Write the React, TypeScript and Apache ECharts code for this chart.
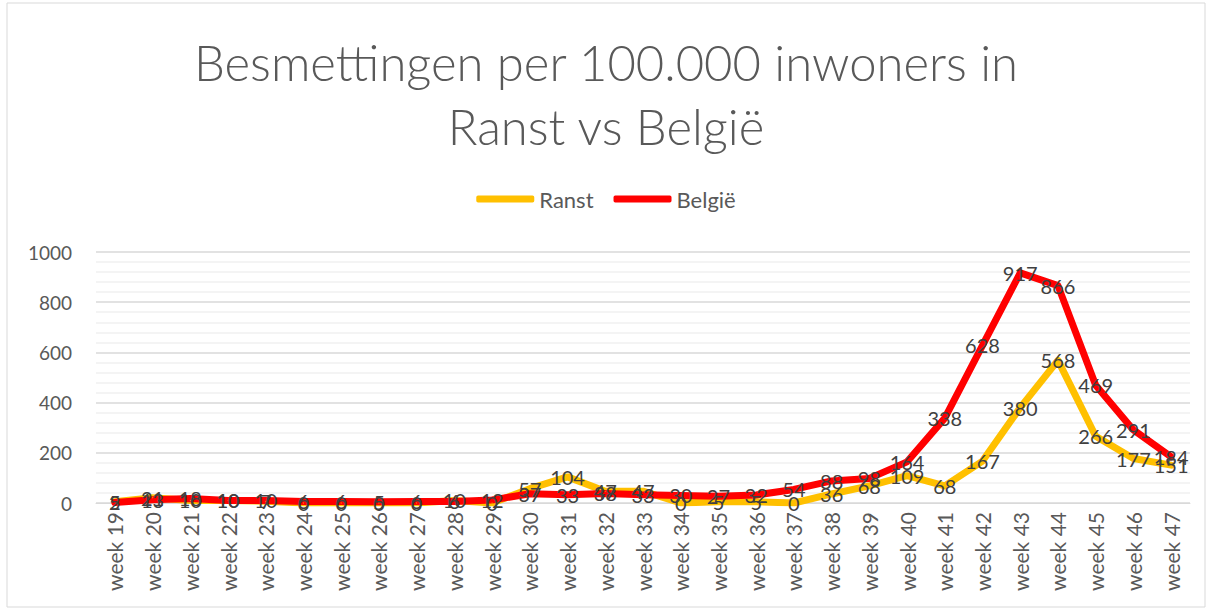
import React, { useEffect, useRef } from "react";
import * as echarts from "echarts";

const weeks = Array.from({ length: 29 }, (_, i) => `week ${19 + i}`);
const ranst = [5, 21, 10, 10, 7, 0, 0, 0, 0, 10, 0, 57, 104, 47, 47, 0, 5, 5, 0, 36, 68, 109, 68, 167, 380, 568, 266, 177, 151];
const belgie = [2, 13, 18, 10, 10, 6, 6, 5, 6, 6, 12, 37, 33, 38, 33, 30, 27, 32, 54, 88, 98, 164, 338, 628, 917, 866, 469, 291, 184];
const yTicks = [0, 200, 400, 600, 800, 1000];

const FONT = "Lato, 'Noto Sans', sans-serif";

export default function App() {
  const ref = useRef<HTMLDivElement>(null);
  useEffect(() => {
    const chart = echarts.init(ref.current!, null, { renderer: "svg" });
    const labelCfg = {
      show: true,
      position: "inside",
      color: "#404040",
      fontSize: 20,
      fontFamily: FONT,
    };
    chart.setOption({
      animation: false,
      backgroundColor: "#fff",
      title: {
        text: "Besmettingen per 100.000 inwoners in\nRanst vs België",
        left: "center",
        top: 25,
        textStyle: {
          fontFamily: FONT,
          fontWeight: 300,
          fontSize: 49,
          lineHeight: 64,
          color: "#595959",
        },
      },
      legend: {
        top: 183,
        left: "center",
        icon: "roundRect",
        itemWidth: 58,
        itemHeight: 7,
        itemGap: 20,
        textStyle: { fontFamily: FONT, fontSize: 22, color: "#595959" },
        data: ["Ranst", "België"],
      },
      graphic: [
        {
          type: "rect",
          shape: { x: 7, y: 3, width: 1198, height: 604 },
          style: { fill: "none", stroke: "#d9d9d9", lineWidth: 1 },
          silent: true,
        },
      ],
      grid: { left: 96, right: 22, top: 252, bottom: 108, containLabel: false },
      xAxis: {
        type: "category",
        data: weeks,
        boundaryGap: true,
        axisLine: { lineStyle: { color: "#d9d9d9", width: 1 } },
        axisTick: { show: false },
        axisLabel: {
          rotate: 90,
          color: "#595959",
          fontSize: 21,
          fontFamily: FONT,
          interval: 0,
          margin: 9,
        },
      },
      yAxis: {
        type: "value",
        min: 0,
        max: 1000,
        interval: 200,
        axisLine: { show: false },
        axisTick: { show: false },
        axisLabel: {
          color: "#595959",
          fontSize: 19,
          fontFamily: FONT,
          margin: 24,
          formatter: (v: number) => (yTicks.includes(v) ? String(v) : ""),
        },
        splitLine: { lineStyle: { color: "#d9d9d9", width: 1.5 } },
        minorTick: { show: false, splitNumber: 5 },
        minorSplitLine: { show: true, lineStyle: { color: "#f0f0f0", width: 1.5 } },
      },
      series: [
        {
          name: "Ranst",
          type: "line",
          data: ranst,
          symbol: "circle",
          symbolSize: 1,
          color: "#FFC000",
          itemStyle: { color: "#FFC000" },
          lineStyle: { color: "#FFC000", width: 7, cap: "round", join: "round" },
          label: labelCfg,
          labelLayout: { hideOverlap: false },
        },
        {
          name: "België",
          type: "line",
          data: belgie,
          symbol: "circle",
          symbolSize: 1,
          color: "#FF0000",
          itemStyle: { color: "#FF0000" },
          lineStyle: { color: "#FF0000", width: 7, cap: "round", join: "round" },
          label: labelCfg,
          labelLayout: { hideOverlap: false },
        },
      ],
    });
    return () => chart.dispose();
  }, []);
  return (
    <div
      ref={ref}
      style={{ position: "fixed", left: 0, top: 0, width: 1212, height: 611 }}
    />
  );
}
